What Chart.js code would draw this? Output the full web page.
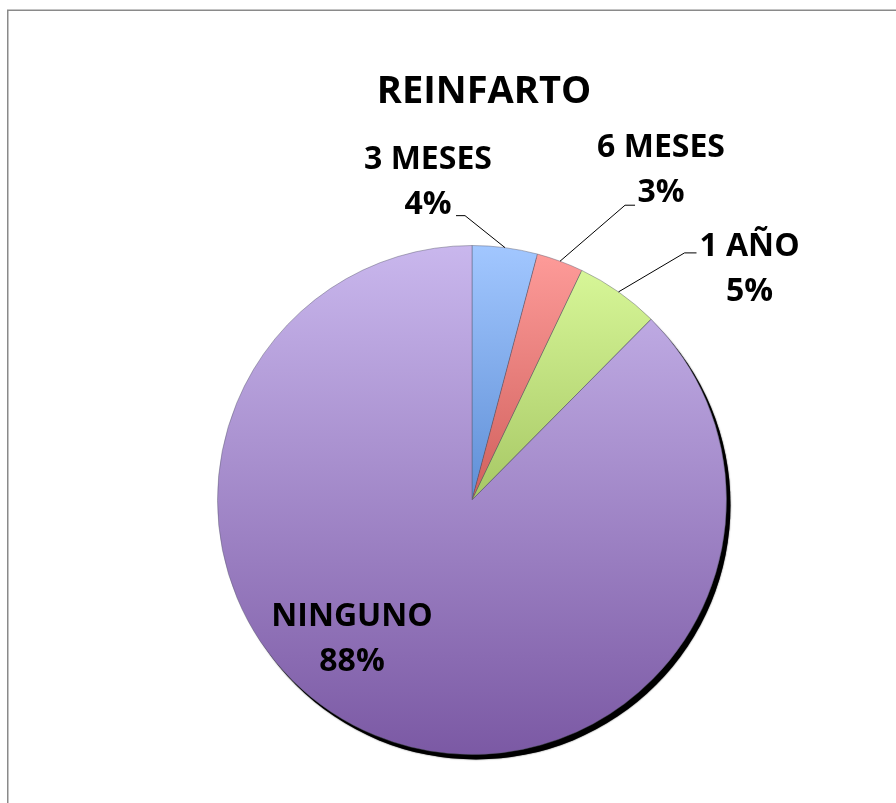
<!DOCTYPE html>
<html><head><meta charset="utf-8">
<script src="https://cdn.jsdelivr.net/npm/chart.js@4"></script>
<style>html,body{margin:0;padding:0;background:#fff}#wrap{width:896px;height:803px;position:relative}</style>
</head><body><div id="wrap"><canvas id="c" width="896" height="803"></canvas></div>
<script>
const title = "REINFARTO";
const categories = ["3 MESES", "6 MESES", "1 AÑO", "NINGUNO"];
const counts = [7, 5, 9, 148];
const percentLabels = ["4%", "3%", "5%", "88%"];

const gradTop = ["#a2c7ff", "#ff9d9b", "#dcfb9d", "#c9b7ed"];
const gradBottom = ["#5f8fd6", "#d0605c", "#a7c865", "#7b59a4"];

const FONT = "'Open Sans'";

function sliceFill(ctx) {
  const chart = ctx.chart; const ca = chart.chartArea; const i = ctx.dataIndex;
  if (!ca) return gradTop[i];
  const cy = (ca.top + ca.bottom) / 2;
  const yEnd = i === 3 ? ca.bottom : cy;
  const g = chart.ctx.createLinearGradient(0, ca.top, 0, yEnd);
  g.addColorStop(0, gradTop[i]); g.addColorStop(1, gradBottom[i]);
  return g;
}

// label layout relative to each arc's anchor (outer mid point); NINGUNO relative to center
const labelLayout = [
  {elbow:[-40,-32], end:[-49,-32], text:[-77,-88], inside:false},
  {elbow:[65,-56], end:[75,-56], text:[101,-113], inside:false},
  {elbow:[66,-39], end:[78,-39], text:[131,-45], inside:false},
  {text:[-120,117], inside:true}
];

const framePlugin = {
  id:'frame',
  beforeDraw(chart){
    const c = chart.ctx; c.save();
    c.fillStyle='#fff'; c.fillRect(0,0,chart.width,chart.height);
    c.strokeStyle='#8a8a8a'; c.lineWidth=1.5;
    c.strokeRect(7.75,10.25,chart.width+20,chart.height+20);
    c.restore();
  },
  beforeDatasetsDraw(chart){
    const arc = chart.getDatasetMeta(0).data[0];
    if(!arc) return;
    const c = chart.ctx; c.save();
    c.shadowColor='rgba(0,0,0,0.8)'; c.shadowBlur=1.5; c.shadowOffsetX=0; c.shadowOffsetY=0;
    c.fillStyle='#000';
    c.beginPath(); c.arc(arc.x+4, arc.y+5, arc.outerRadius, 0, Math.PI*2); c.fill();
    c.restore();
  },
  afterDatasetsDraw(chart){
    const c = chart.ctx; const meta = chart.getDatasetMeta(0);
    const ca = chart.chartArea;
    c.save();
    c.fillStyle='#000'; c.textAlign='center'; c.textBaseline='middle';
    c.font = `bold 38px ${FONT}`;
    c.fillText(title, (ca.left+ca.right)/2 + 12, 92);
    c.font = `bold 32px ${FONT}`;
    meta.data.forEach((a,i)=>{
      const L = labelLayout[i];
      const mid = (a.startAngle + a.endAngle)/2;
      const ax = a.x + Math.cos(mid)*a.outerRadius, ay = a.y + Math.sin(mid)*a.outerRadius;
      let tx, ty;
      if (L.inside) { tx = a.x + L.text[0]; ty = a.y + L.text[1]; }
      else {
        c.strokeStyle='#000'; c.lineWidth=1;
        c.beginPath(); c.moveTo(ax, ay); c.lineTo(ax+L.elbow[0], ay+L.elbow[1]); c.lineTo(ax+L.end[0], ay+L.end[1]); c.stroke();
        tx = ax + L.text[0]; ty = ay + L.text[1];
      }
      c.fillText(categories[i], tx, ty);
      c.fillText(percentLabels[i], tx, ty + 45);
    });
    c.restore();
  }
};

new Chart(document.getElementById('c'), {
  type:'pie',
  data:{labels:categories, datasets:[{data:counts, backgroundColor:sliceFill, borderColor:'rgba(90,90,110,0.45)', borderWidth:1}]},
  options:{
    responsive:false, animation:false,
    layout:{padding:{left:217, right:169, top:245, bottom:48}},
    plugins:{legend:{display:false}, title:{display:false}, tooltip:{enabled:false}}
  },
  plugins:[framePlugin]
});
</script></body></html>
